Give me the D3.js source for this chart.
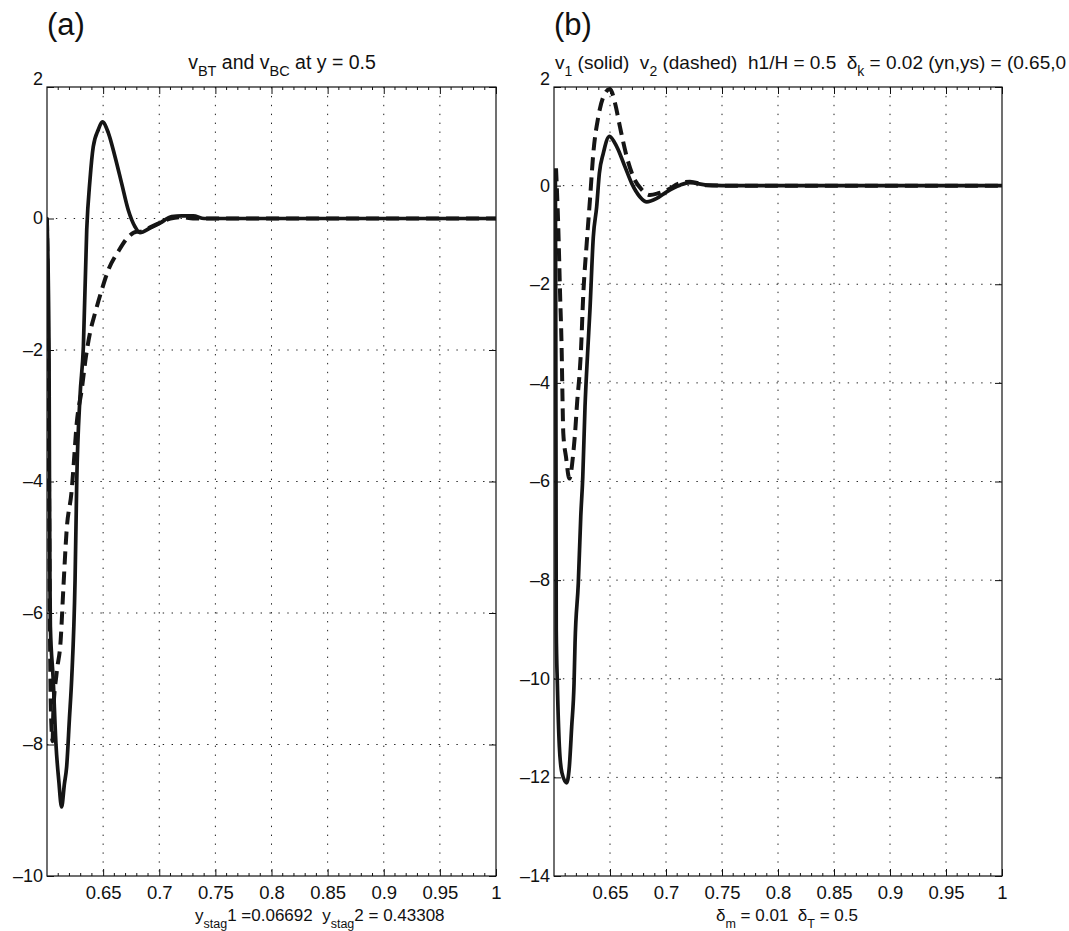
<!DOCTYPE html>
<html>
<head>
<meta charset="utf-8">
<script src="https://cdn.jsdelivr.net/npm/d3@7.9.0/dist/d3.min.js"></script>
<style>
  body { margin: 0; background: #fff; }
  svg { display: block; font-family: "Liberation Sans", Arial, Helvetica, sans-serif; }
</style>
</head>
<body>
<svg id="chart" width="1069" height="931"></svg>
<script>
// x ticks (same for both panels)
const xTicks = [0.65, 0.7, 0.75, 0.8, 0.85, 0.9, 0.95, 1];
const xMinor = d3.range(61, 100).map(d => d / 100);

// panel (a): v_BT (solid) and v_BC (dashed)
const aTicks = [2, 0, -2, -4, -6, -8, -10];
const aSolidX = [0.6, 0.6018, 0.6022, 0.6026, 0.603, 0.6055, 0.608, 0.6105, 0.613, 0.6155, 0.6175, 0.620, 0.622, 0.625, 0.6265, 0.6294, 0.6324, 0.6354, 0.6383, 0.6412, 0.6457, 0.6493, 0.6547, 0.6606, 0.6665, 0.6724, 0.6784, 0.6828, 0.6918, 0.7007, 0.7111, 0.72, 0.7303, 0.74, 1.0];
const aSolidY = [0.0, -2.0, -4.0, -5.5, -6.2, -7.0, -8.0, -8.55, -8.95, -8.6, -8.34, -7.6, -7.0, -5.5, -4.0, -2.71, -1.95, -0.17, 0.59, 1.09, 1.35, 1.47, 1.30, 0.94, 0.535, 0.13, -0.125, -0.215, -0.145, -0.07, 0.03, 0.04, 0.04, 0.0, 0.0];
const aDashX = [0.6, 0.6015, 0.6025, 0.6035, 0.605, 0.6056, 0.6086, 0.6122, 0.6145, 0.6175, 0.622, 0.6234, 0.6265, 0.6309, 0.6347, 0.6383, 0.6428, 0.6487, 0.6547, 0.6635, 0.6724, 0.68, 0.6828, 0.69, 0.70, 0.71, 0.72, 0.73, 1.0];
const aDashY = [0.0, -3.0, -6.0, -7.5, -7.95, -7.52, -6.91, -6.41, -5.65, -4.74, -4.13, -3.83, -3.11, -2.61, -2.10, -1.74, -1.44, -1.09, -0.78, -0.50, -0.28, -0.2, -0.2, -0.15, -0.07, 0.0, 0.02, 0.0, 0.0];

// panel (b): v1 (solid) and v2 (dashed)
const bTicks = [2, 0, -2, -4, -6, -8, -10, -12, -14];
const bSolidX = [0.6012, 0.6015, 0.6018, 0.602, 0.603, 0.6048, 0.6071, 0.6113, 0.6137, 0.6158, 0.6179, 0.6188, 0.6217, 0.6239, 0.6257, 0.6277, 0.630, 0.6321, 0.6351, 0.6381, 0.6405, 0.644, 0.6494, 0.656, 0.6634, 0.6694, 0.6768, 0.6828, 0.6917, 0.7006, 0.7125, 0.7214, 0.7363, 0.75, 1.0];
const bSolidY = [0.3, -2.0, -6.0, -9.0, -10.1, -11.38, -11.91, -12.11, -11.78, -10.97, -10.09, -9.27, -8.06, -6.71, -5.90, -4.48, -3.4, -2.52, -1.04, -0.43, 0.25, 0.655, 1.0, 0.79, 0.38, 0.045, -0.23, -0.33, -0.26, -0.125, 0.01, 0.06, 0.01, 0.0, 0.0];
const bDashX = [0.6018, 0.6038, 0.6054, 0.6069, 0.6075, 0.6083, 0.6107, 0.6137, 0.6172, 0.6188, 0.6208, 0.6226, 0.6238, 0.6262, 0.6292, 0.6321, 0.6351, 0.6396, 0.6455, 0.65, 0.6545, 0.6589, 0.6649, 0.6708, 0.6783, 0.6857, 0.6931, 0.70, 0.7125, 0.7214, 0.7363, 0.75, 1.0];
const bDashY = [0.35, -0.83, -2.18, -3.4, -4.2, -5.02, -5.5, -5.94, -5.43, -5.02, -4.35, -3.88, -3.47, -2.18, -1.17, -0.29, 0.655, 1.40, 1.87, 1.96, 1.67, 1.19, 0.59, 0.18, -0.08, -0.19, -0.155, -0.1, 0.05, 0.08, 0.01, 0.0, 0.0];

const svg = d3.select("#chart");
const plotTop = 87, plotBottom = 876;
const fmt = d => String(d).replace("-", "\u2013");

function drawPanel(opt) {
  const x = d3.scaleLinear().domain([0.6, 1]).range([opt.left, opt.right]);
  const y = d3.scaleLinear().domain([opt.ticks[opt.ticks.length - 1], opt.ticks[0]]).range([plotBottom, plotTop]);
  const g = svg.append("g");
  const id = "clip" + opt.key;
  svg.append("clipPath").attr("id", id).append("rect")
    .attr("x", opt.left).attr("y", plotTop).attr("width", opt.right - opt.left).attr("height", plotBottom - plotTop);

  // dotted grid
  g.append("g").selectAll("line").data(xTicks.filter(d => d < 1)).join("line")
    .attr("x1", d => x(d)).attr("x2", d => x(d)).attr("y1", plotTop).attr("y2", plotBottom)
    .attr("stroke", "#222").attr("stroke-width", 1).attr("stroke-dasharray", "1.4,7.5");
  g.append("g").selectAll("line").data(opt.ticks.slice(1, -1)).join("line")
    .attr("x1", opt.left).attr("x2", opt.right).attr("y1", d => y(d)).attr("y2", d => y(d))
    .attr("stroke", "#222").attr("stroke-width", 1).attr("stroke-dasharray", "1.4,7.5");

  // axes with inward ticks
  const axB = g.append("g").attr("transform", `translate(0,${plotBottom})`)
    .call(d3.axisBottom(x).tickValues(xTicks).tickSize(-7).tickPadding(10).tickFormat(fmt));
  const axT = g.append("g").attr("transform", `translate(0,${plotTop})`)
    .call(d3.axisTop(x).tickValues(xTicks).tickSize(-7).tickFormat(""));
  const axL = g.append("g").attr("transform", `translate(${opt.left},0)`)
    .call(d3.axisLeft(y).tickValues(opt.ticks).tickSize(-7).tickPadding(4).tickFormat(fmt));
  const axR = g.append("g").attr("transform", `translate(${opt.right},0)`)
    .call(d3.axisRight(y).tickValues(opt.ticks).tickSize(-7).tickFormat(""));
  [axB, axT, axL, axR].forEach(a => {
    a.select(".domain").remove();
    a.selectAll(".tick line").attr("stroke", "#111").attr("stroke-width", 1);
    a.selectAll("text").attr("fill", "#111").attr("font-size", 18.5).attr("font-family", null);
  });
  axB.selectAll("text").attr("dy", "0.71em");
  axL.selectAll(".tick text").attr("font-size", 18)
    .attr("dy", (d, i) => i === 0 ? "-0.15em" : "0.3em");

  // minor ticks
  const minor = xMinor.filter(d => !xTicks.includes(d));
  g.append("g").selectAll("line").data(minor).join("line")
    .attr("x1", d => x(d)).attr("x2", d => x(d)).attr("y1", plotBottom).attr("y2", plotBottom - 3)
    .attr("stroke", "#111");
  g.append("g").selectAll("line").data(minor).join("line")
    .attr("x1", d => x(d)).attr("x2", d => x(d)).attr("y1", plotTop).attr("y2", plotTop + 3)
    .attr("stroke", "#111");

  // frame
  g.append("rect").attr("x", opt.left).attr("y", plotTop)
    .attr("width", opt.right - opt.left).attr("height", plotBottom - plotTop)
    .attr("fill", "none").attr("stroke", "#111").attr("stroke-width", 1.2);

  const line = d3.line().curve(d3.curveMonotoneX).x(d => x(d[0])).y(d => y(d[1]));
  const curves = g.append("g").attr("clip-path", `url(#${id})`);
  curves.append("path").datum(d3.zip(opt.dashX, opt.dashY))
    .attr("d", line).attr("fill", "none").attr("stroke", "#151515")
    .attr("stroke-width", 4).attr("stroke-dasharray", "13,7").attr("stroke-linejoin", "round");
  curves.append("path").datum(d3.zip(opt.solidX, opt.solidY))
    .attr("d", line).attr("fill", "none").attr("stroke", "#151515")
    .attr("stroke-width", 3.7).attr("stroke-linejoin", "round").attr("stroke-linecap", "round");

  // panel letter
  svg.append("text").attr("x", opt.left).attr("y", 35).attr("font-size", 31)
    .attr("fill", "#111").text(opt.name);
}

drawPanel({ key: "a", name: "(a)", left: 47, right: 496, ticks: aTicks,
  solidX: aSolidX, solidY: aSolidY, dashX: aDashX, dashY: aDashY });
drawPanel({ key: "b", name: "(b)", left: 554, right: 1002, ticks: bTicks,
  solidX: bSolidX, solidY: bSolidY, dashX: bDashX, dashY: bDashY });

// text with subscripts: parts = [text, isSub]
function richText(xPos, yPos, parts, anchor, size, subSize) {
  const t = svg.append("text").attr("x", xPos).attr("y", yPos)
    .attr("font-size", size).attr("fill", "#111").attr("text-anchor", anchor)
    .style("white-space", "pre");
  let down = false;
  parts.forEach(([s, sub]) => {
    const ts = t.append("tspan").text(s);
    if (sub && !down) { ts.attr("dy", 7).attr("font-size", subSize); down = true; }
    else if (!sub && down) { ts.attr("dy", -7); down = false; }
    else if (sub) ts.attr("font-size", subSize);
  });
  return t;
}

richText(282, 69, [["v", 0], ["BT", 1], [" and v", 0], ["BC", 1], [" at y = 0.5", 0]], "middle", 19.5, 14.5);
richText(555, 69, [["v", 0], ["1", 1], [" (solid)  v", 0], ["2", 1], [" (dashed)  h1/H = 0.5  \u03b4", 0], ["k", 1], [" = 0.02 (yn,ys) = (0.65,0", 0]], "start", 19, 14);
richText(195, 921, [["y", 0], ["stag", 1], ["1 =0.06692  y", 0], ["stag", 1], ["2 = 0.43308", 0]], "start", 17, 12.5);
richText(716, 921, [["\u03b4", 0], ["m", 1], [" = 0.01  \u03b4", 0], ["T", 1], [" = 0.5", 0]], "start", 17, 12.5);
</script>
</body>
</html>
